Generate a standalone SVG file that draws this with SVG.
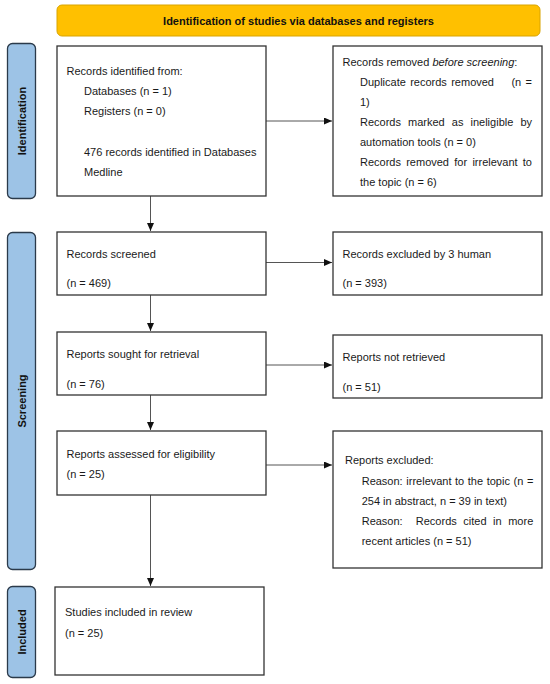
<svg xmlns="http://www.w3.org/2000/svg" width="550" height="684" viewBox="0 0 550 684">
<defs>
<marker id="ah" markerUnits="userSpaceOnUse" markerWidth="8" markerHeight="7" refX="8" refY="3.5" orient="auto">
<path d="M0,0 L8,3.5 L0,7 z" fill="#111"/>
</marker>
<style>
.box{fill:#fff;stroke:#333;stroke-width:1.3}
.phase{fill:#9dc3e6;stroke:#2b3a4a;stroke-width:1.3}
.banner{fill:#ffc000;stroke:#d9a400;stroke-width:1}
.t{font-family:"Liberation Sans",Arial,sans-serif;font-size:11px;fill:#1a1a1a}
.b{font-family:"Liberation Sans",Arial,sans-serif;font-size:11px;font-weight:bold;fill:#111}
.c{stroke:#555;stroke-width:1;fill:none;marker-end:url(#ah)}
</style>
</defs>
<rect width="550" height="684" fill="#fff"/>

<g id="banner">
<rect class="banner" x="57" y="5" width="483" height="31" rx="5"/>
<text class="b" x="298.5" y="25" text-anchor="middle">Identification of studies via databases and registers</text>
</g>

<g id="phase-identification">
<rect class="phase" x="7.5" y="43.5" width="28" height="155" rx="5"/>
<text class="b" transform="translate(25.5,121) rotate(-90)" text-anchor="middle">Identification</text>
</g>
<g id="phase-screening">
<rect class="phase" x="7.5" y="232.5" width="28" height="337" rx="5"/>
<text class="b" transform="translate(25.5,401) rotate(-90)" text-anchor="middle">Screening</text>
</g>
<g id="phase-included">
<rect class="phase" x="7.5" y="586.5" width="28" height="91" rx="5"/>
<text class="b" transform="translate(25.5,632) rotate(-90)" text-anchor="middle">Included</text>
</g>

<g id="connectors">
<line class="c" x1="266" y1="121" x2="332" y2="121"/>
<line class="c" x1="150.5" y1="196" x2="150.5" y2="231"/>
<line class="c" x1="266" y1="262.5" x2="332" y2="262.5"/>
<line class="c" x1="150.5" y1="295" x2="150.5" y2="331"/>
<line class="c" x1="266" y1="365" x2="332" y2="365"/>
<line class="c" x1="150.5" y1="395" x2="150.5" y2="430"/>
<line class="c" x1="266" y1="465" x2="332" y2="465"/>
<line class="c" x1="150.5" y1="495" x2="150.5" y2="586"/>
</g>

<g id="records-identified">
<rect class="box" x="57" y="46" width="209" height="150"/>
<text class="t" x="66.5" y="75">Records identified from:</text>
<text class="t" x="84" y="95">Databases (n = 1)</text>
<text class="t" x="84" y="115">Registers (n = 0)</text>
<text class="t" x="84" y="156">476 records identified in Databases</text>
<text class="t" x="84" y="176">Medline</text>
</g>

<g id="records-removed">
<rect class="box" x="333" y="46" width="209" height="150"/>
<text class="t" x="342.5" y="66">Records removed <tspan font-style="italic">before screening</tspan>:</text>
<text class="t" y="86"><tspan x="360">Duplicate</tspan><tspan x="410.2">records</tspan><tspan x="451.2">removed</tspan><tspan x="511.4">(n</tspan><tspan x="525.6">=</tspan></text>
<text class="t" x="360" y="106">1)</text>
<text class="t" y="126"><tspan x="360">Records</tspan><tspan x="408">marked</tspan><tspan x="451.8">as</tspan><tspan x="470.5">ineligible</tspan><tspan x="520.4">by</tspan></text>
<text class="t" x="360" y="146">automation tools (n = 0)</text>
<text class="t" y="166"><tspan x="360">Records</tspan><tspan x="406.2">removed</tspan><tspan x="454.3">for</tspan><tspan x="472.4">irrelevant</tspan><tspan x="522.8">to</tspan></text>
<text class="t" x="360" y="186">the topic (n = 6)</text>
</g>

<g id="records-screened">
<rect class="box" x="57" y="232" width="209" height="63"/>
<text class="t" x="66.5" y="258">Records screened</text>
<text class="t" x="66.5" y="287">(n = 469)</text>
</g>

<g id="records-excluded">
<rect class="box" x="333" y="232" width="209" height="63"/>
<text class="t" x="342.5" y="258">Records excluded by 3 human</text>
<text class="t" x="342.5" y="287">(n = 393)</text>
</g>

<g id="reports-sought">
<rect class="box" x="57" y="332" width="209" height="63"/>
<text class="t" x="66.5" y="358">Reports sought for retrieval</text>
<text class="t" x="66.5" y="388">(n = 76)</text>
</g>

<g id="reports-not-retrieved">
<rect class="box" x="333" y="335" width="209" height="63"/>
<text class="t" x="342.5" y="361">Reports not retrieved</text>
<text class="t" x="342.5" y="391">(n = 51)</text>
</g>

<g id="reports-assessed">
<rect class="box" x="57" y="431" width="209" height="64"/>
<text class="t" x="66.5" y="458">Reports assessed for eligibility</text>
<text class="t" x="66.5" y="478">(n = 25)</text>
</g>

<g id="reports-excluded">
<rect class="box" x="333" y="431" width="209" height="137"/>
<text class="t" x="345" y="464">Reports excluded:</text>
<text class="t" y="485"><tspan x="361.7">Reason:</tspan><tspan x="406.3">irrelevant</tspan><tspan x="455">to</tspan><tspan x="467.8">the</tspan><tspan x="486.7">topic</tspan><tspan x="513.5">(n</tspan><tspan x="526.9">=</tspan></text>
<text class="t" x="361.7" y="505">254 in abstract, n = 39 in text)</text>
<text class="t" y="525"><tspan x="361.7">Reason:</tspan><tspan x="415.8">Records</tspan><tspan x="463.3">cited</tspan><tspan x="493.1">in</tspan><tspan x="508.2">more</tspan></text>
<text class="t" x="361.7" y="545">recent articles (n = 51)</text>
</g>

<g id="studies-included">
<rect class="box" x="55" y="587" width="209" height="88"/>
<text class="t" x="65" y="616">Studies included in review</text>
<text class="t" x="65" y="637">(n = 25)</text>
</g>
</svg>
